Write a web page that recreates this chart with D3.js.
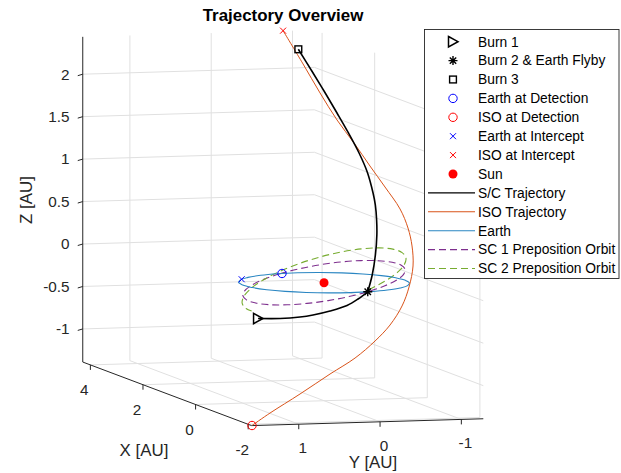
<!DOCTYPE html>
<html><head><meta charset="utf-8">
<script src="https://cdn.jsdelivr.net/npm/d3@7"></script>
<style>
body{margin:0;background:#fff}
svg{display:block;font-family:"Liberation Sans",Arial,Helvetica,sans-serif}
</style>
</head><body>
<svg id="chart" width="621" height="473"></svg>
<script>
// ---------------- data ----------------
const xLim = [-2.13, 4.29];
const yLim = [-1.27, 1.58];
const zLim = [-1.39, 2.44];
const xTicks = [4, 2, 0, -2];
const yTicks = [1, 0, -1];
const zTicks = [-1, -0.5, 0, 0.5, 1, 1.5, 2];
const xTickLabels = ["4", "2", "0", "-2"];
const yTickLabels = ["1", "0", "-1"];
const zTickLabels = ["-1", "-0.5", "0", "0.5", "1", "1.5", "2"];

// ISO trajectory (AU)
const isoX = [-2.13,-1.95,-1.65,-1.35,-1.05,-0.75,-0.45,-0.2,0.1,0.35,0.5,0.65,0.85,1.2,1.6,2.05,2.55,3.1,3.7,4.29];
const isoY = [1.575,1.295,0.829,0.363,-0.042,-0.385,-0.666,-0.895,-1.078,-1.208,-1.244,-1.243,-1.210,-1.138,-1.083,-1.032,-0.985,-0.954,-0.939,-0.884];
const isoZ = [-1.389,-1.271,-1.095,-0.908,-0.766,-0.610,-0.465,-0.276,-0.093,0.122,0.339,0.533,0.735,0.955,1.157,1.377,1.591,1.846,2.118,2.443];

// Spacecraft trajectory (AU); index 7 = Burn 2 & Earth flyby
const scX = [-0.15,-0.3,-0.45,-0.55,-0.68,-0.8,-0.9,-0.97,-0.75,-0.5,-0.2,0.05,0.3,0.55,1.0,1.45,1.9,2.4,2.9,3.45,4.0];
const scY = [0.860,0.638,0.441,0.313,0.146,-0.024,-0.127,-0.224,-0.350,-0.470,-0.585,-0.663,-0.728,-0.781,-0.855,-0.900,-0.915,-0.936,-0.9455,-0.966,-0.978];
const scZ = [-0.380,-0.369,-0.339,-0.307,-0.250,-0.176,-0.091,0,0.168,0.371,0.569,0.714,0.860,0.970,1.163,1.333,1.516,1.692,1.881,2.064,2.255];
const burn2Index = 7;

// Earth orbit (closed)
const earthX = [1,0.966,0.866,0.707,0.5,0.259,0,-0.259,-0.5,-0.707,-0.866,-0.966,-1,-0.966,-0.866,-0.707,-0.5,-0.259,0,0.259,0.5,0.707,0.866,0.966];
const earthY = [0,0.259,0.5,0.707,0.866,0.966,1,0.966,0.866,0.707,0.5,0.259,0,-0.259,-0.5,-0.707,-0.866,-0.966,-1,-0.966,-0.866,-0.707,-0.5,-0.259];
const earthZ = [0,0,0,0,0,0,0,0,0,0,0,0,0,0,0,0,0,0,0,0,0,0,0,0];

// SC 1 preposition orbit (closed)
const sc1X = [0.95,0.918,0.823,0.672,0.475,0.246,0,-0.246,-0.475,-0.672,-0.823,-0.918,-0.95,-0.918,-0.823,-0.672,-0.475,-0.246,0,0.246,0.475,0.672,0.823,0.918];
const sc1Y = [0,0.246,0.475,0.672,0.823,0.918,0.95,0.918,0.823,0.672,0.475,0.246,0,-0.246,-0.475,-0.672,-0.823,-0.918,-0.95,-0.918,-0.823,-0.672,-0.475,-0.246];
const sc1Z = [0.0525,0.005,-0.0435,-0.0888,-0.1279,-0.1583,-0.178,-0.1855,-0.1804,-0.163,-0.1345,-0.0968,-0.0525,-0.0046,0.0435,0.0888,0.1279,0.1583,0.178,0.1855,0.1804,0.163,0.1345,0.0968];

// SC 2 preposition orbit (open arc)
const sc2X = [-0.727,-0.631,-0.479,-0.28,-0.049,0.2,0.449,0.68,0.879,1.031,1.127,1.16,1.127,1.031,0.879,0.68,0.449,0.2,0.033];
const sc2Y = [-0.314,-0.545,-0.744,-0.896,-0.992,-1.025,-0.992,-0.896,-0.744,-0.545,-0.314,-0.065,0.184,0.415,0.614,0.766,0.862,0.895,0.880];
const sc2Z = [-0.0052,0.0765,0.1528,0.2188,0.2698,0.3025,0.3146,0.3052,0.275,0.2261,0.1618,0.0864,0.0052,-0.0765,-0.1528,-0.2188,-0.2698,-0.3025,-0.313];

// single points
const earthDetection = [0.98, 0.2, 0];
const earthIntercept = [0.55, 0.835, 0];
const sunPos = [0, 0, 0];

const legendNames = ["Burn 1","Burn 2 & Earth Flyby","Burn 3","Earth at Detection","ISO at Detection",
  "Earth at Intercept","ISO at Intercept","Sun","S/C Trajectory","ISO Trajectory","Earth",
  "SC 1 Preposition Orbit","SC 2 Preposition Orbit"];

// ---------------- projection (3-D axes box) ----------------
const svg = d3.select("#chart");
const O = [251.6, 425.6];                    // screen position of (xMin, yMax, zMin)
const sx = d3.scaleLinear().domain(xLim).range([[0,0],[-168.85,-63.56]]);
const sy = d3.scaleLinear().domain([yLim[1], yLim[0]]).range([[0,0],[231.7,-6.84]]);
const sz = d3.scaleLinear().domain(zLim).range([0,-325.2]);
function P(x, y, z){ const a = sx(x), b = sy(y); return [O[0]+a[0]+b[0], O[1]+a[1]+b[1]+sz(z)]; }
const zip = (X,Y,Z) => X.map((v,i)=>[v,Y[i],Z[i]]);

const gridC = "#e0e0e0", axC = "#262626";
const gGrid = svg.append("g").attr("stroke", gridC).attr("stroke-width", 1).attr("fill","none");
function seg(g, a, b){ const p=P(...a), q=P(...b); g.append("line").attr("x1",p[0]).attr("y1",p[1]).attr("x2",q[0]).attr("y2",q[1]); }
const [x0,x1] = xLim, [y0,y1] = yLim, [z0,z1] = zLim;
zTicks.forEach(z => { seg(gGrid,[x1,y1,z],[x1,y0,z]); seg(gGrid,[x1,y0,z],[x0,y0,z]); });
yTicks.forEach(y => { seg(gGrid,[x1,y,z0],[x1,y,z1]); seg(gGrid,[x1,y,z0],[x0,y,z0]); });
xTicks.forEach(x => { seg(gGrid,[x,y0,z0],[x,y0,z1]); seg(gGrid,[x,y0,z0],[x,y1,z0]); });

const gAx = svg.append("g").attr("stroke", axC).attr("stroke-width", 1).attr("fill","none");
seg(gAx,[x1,y1,z0],[x1,y1,z1]);
seg(gAx,[x1,y1,z0],[x0,y1,z0]);
seg(gAx,[x0,y1,z0],[x0,y0,z0]);

const fs = 15.3;
const gT = svg.append("g").attr("fill", axC).style("font-size", fs+"px");
zTicks.forEach((z,i) => {
  const p = P(x1,y1,z);
  gAx.append("line").attr("x1",p[0]).attr("y1",p[1]).attr("x2",p[0]-5).attr("y2",p[1]+1.5);
  gT.append("text").attr("x",69.5).attr("y",p[1]).attr("dy","0.35em").attr("text-anchor","end").text(zTickLabels[i]);
});
xTicks.forEach((x,i) => {
  const p = P(x,y1,z0);
  gAx.append("line").attr("x1",p[0]).attr("y1",p[1]).attr("x2",p[0]).attr("y2",p[1]+5);
  gT.append("text").attr("x",p[0]-6).attr("y",p[1]+25).attr("dy","0.35em").attr("text-anchor","middle").text(xTickLabels[i]);
});
yTicks.forEach((y,i) => {
  const p = P(x0,y,z0);
  gAx.append("line").attr("x1",p[0]).attr("y1",p[1]).attr("x2",p[0]).attr("y2",p[1]+5);
  gT.append("text").attr("x",p[0]+4).attr("y",p[1]+23.5).attr("dy","0.35em").attr("text-anchor","middle").text(yTickLabels[i]);
});

const lab = svg.append("g").attr("fill", axC).style("font-size","16.9px").attr("text-anchor","middle");
lab.append("text").attr("x",144).attr("y",456).text("X [AU]");
lab.append("text").attr("x",373).attr("y",468).text("Y [AU]");
lab.append("text").attr("transform","translate(32,200) rotate(-90)").text("Z [AU]");
svg.append("text").attr("x",283).attr("y",21).attr("text-anchor","middle").style("font-size","16.9px")
  .style("font-weight","bold").attr("fill","#000").text("Trajectory Overview");

// ---------------- data marks ----------------
const lineOpen = d3.line().x(d=>P(...d)[0]).y(d=>P(...d)[1]).curve(d3.curveCatmullRom.alpha(0.5));
const lineClosed = d3.line().x(d=>P(...d)[0]).y(d=>P(...d)[1]).curve(d3.curveCatmullRomClosed.alpha(0.5));

const C = {sc:"#000000", iso:"#D95319", earth:"#2a86c2", sc1:"#7E2F8E", sc2:"#77AC30"};
const dash = "7,4";
const gD = svg.append("g").attr("fill","none");
gD.append("path").attr("d", lineClosed(zip(sc1X,sc1Y,sc1Z))).attr("stroke",C.sc1).attr("stroke-width",1.1).attr("stroke-dasharray",dash);
gD.append("path").attr("d", lineOpen(zip(sc2X,sc2Y,sc2Z))).attr("stroke",C.sc2).attr("stroke-width",1.1).attr("stroke-dasharray",dash);
gD.append("path").attr("d", lineClosed(zip(earthX,earthY,earthZ))).attr("stroke",C.earth).attr("stroke-width",1.1);
gD.append("path").attr("d", lineOpen(zip(isoX,isoY,isoZ))).attr("stroke",C.iso).attr("stroke-width",1);
const scPts = zip(scX,scY,scZ);
gD.append("path").attr("d", lineOpen(scPts.slice(0,burn2Index+1))).attr("stroke",C.sc).attr("stroke-width",1.6);
gD.append("path").attr("d", lineOpen(scPts.slice(burn2Index))).attr("stroke",C.sc).attr("stroke-width",1.6);

function marker(g, type, cx, cy){
  const m = g.append("g").attr("transform",`translate(${cx},${cy})`).attr("fill","none");
  if(type==="tri") m.append("path").attr("d","M-4.5,-5.2L5,0L-4.5,5.2Z").attr("stroke","#000").attr("stroke-width",1.5);
  if(type==="star"){ m.append("path").attr("d","M-4.5,0H4.5M0,-4.5V4.5M-3.2,-3.2L3.2,3.2M-3.2,3.2L3.2,-3.2").attr("stroke","#000").attr("stroke-width",1.4); }
  if(type==="sq") m.append("rect").attr("x",-3.4).attr("y",-3.4).attr("width",6.8).attr("height",6.8).attr("stroke","#000").attr("stroke-width",1.4);
  if(type==="bo") m.append("circle").attr("r",4.2).attr("stroke","#0000ff").attr("stroke-width",1);
  if(type==="ro") m.append("circle").attr("r",4.2).attr("stroke","#ff0000").attr("stroke-width",1);
  if(type==="bx") m.append("path").attr("d","M-3,-3L3,3M-3,3L3,-3").attr("stroke","#0000ff").attr("stroke-width",1);
  if(type==="rx") m.append("path").attr("d","M-3,-3L3,3M-3,3L3,-3").attr("stroke","#ff0000").attr("stroke-width",1);
  if(type==="sun") m.append("circle").attr("r",4.5).attr("fill","#ff0000");
}
const gM = svg.append("g");
const mPts = [
  ["tri", scPts[0]], ["star", scPts[burn2Index]], ["sq", scPts[scPts.length-1]],
  ["bo", earthDetection], ["ro", [isoX[0],isoY[0],isoZ[0]]],
  ["bx", earthIntercept], ["rx", [isoX[isoX.length-1],isoY[isoY.length-1],isoZ[isoZ.length-1]]],
  ["sun", sunPos]
];
mPts.forEach(([t,p]) => { const s=P(...p); marker(gM,t,s[0],s[1]); });

// ---------------- legend ----------------
const L = svg.append("g");
L.append("rect").attr("x",424.5).attr("y",29.5).attr("width",194.5).attr("height",249).attr("fill","#fff").attr("stroke",axC).attr("stroke-width",0.9);
const legSym = ["tri","star","sq","bo","ro","bx","rx","sun"];
const legLines = [[C.sc,1.4,null],[C.iso,1.1,null],[C.earth,1.1,null],[C.sc1,1.1,dash],[C.sc2,1.1,dash]];
legendNames.forEach((name,i) => {
  const y = 41.7 + i*18.9;
  if(i < legSym.length) marker(L, legSym[i], 453, y);
  else {
    const [c,w,da] = legLines[i-legSym.length];
    const ln = L.append("line").attr("x1",428).attr("x2",475).attr("y1",y).attr("y2",y).attr("stroke",c).attr("stroke-width",w);
    if(da) ln.attr("stroke-dasharray",da);
  }
  L.append("text").attr("x",478).attr("y",y).attr("dy","0.35em").style("font-size","13.8px").attr("fill","#000").text(name);
});
</script>
</body></html>
